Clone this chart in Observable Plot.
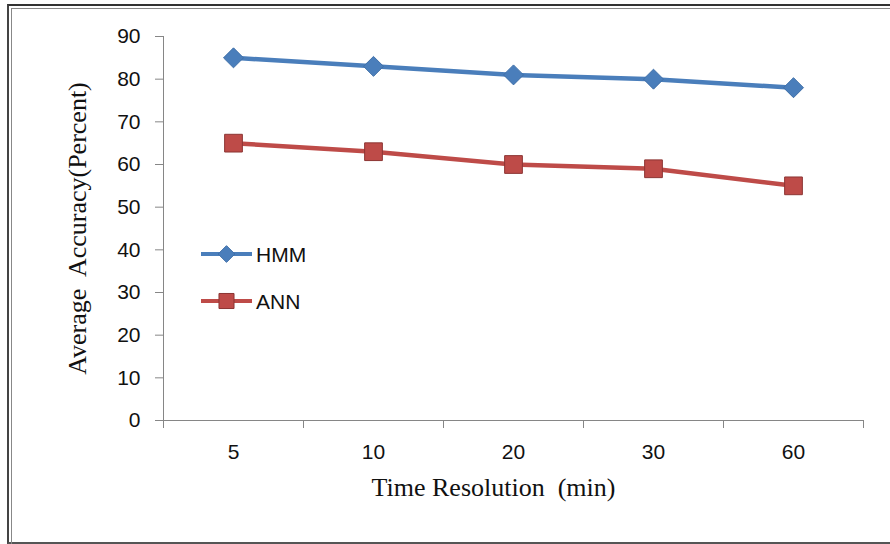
<!DOCTYPE html>
<html>
<head>
<meta charset="utf-8">
<script src="https://cdn.jsdelivr.net/npm/d3@7"></script>
<script src="https://cdn.jsdelivr.net/npm/@observablehq/plot@0.6"></script>
<style>
  html, body { margin: 0; padding: 0; background: #fff; }
  #wrap { position: relative; width: 890px; height: 544px; overflow: hidden; background: #fff; }
  #chart { position: absolute; left: 0; top: 0; }
  .frame { position: absolute; box-sizing: border-box; }
  #outer { left: 7px; top: 4px; width: 900px; height: 540px; border-left: 2px solid #444; border-top: 2px solid #333; border-bottom: 2px solid #555; }
  #inner { left: 11px; top: 8px; width: 900px; height: 600px; border-left: 1px solid #888; border-top: 1px solid #888; }
  #legend { position: absolute; left: 0; top: 0; }
</style>
</head>
<body>
<div id="wrap">
  <div id="chart"></div>
  <div class="frame" id="outer"></div>
  <div class="frame" id="inner"></div>
  <svg id="legend" width="890" height="544"></svg>
</div>
<script>
// ---- data ----
const categories = ["5", "10", "20", "30", "60"];
const hmmValues = [85, 83, 81, 80, 78];
const annValues = [65, 63, 60, 59, 55];
const seriesNames = ["HMM", "ANN"];
const seriesColors = ["#4a7ebb", "#be4b48"];
const seriesStrokes = ["#3f6fa8", "#8c3533"];
const seriesSymbols = ["diamond2", "square"];
const yTicks = [0, 10, 20, 30, 40, 50, 60, 70, 80, 90];
const xTitle = "Time Resolution  (min)";
const yTitle = "Average  Accuracy(Percent)";

const rows = [];
categories.forEach((c, i) => {
  rows.push({series: seriesNames[0], pos: i + 0.5, cat: c, value: hmmValues[i]});
  rows.push({series: seriesNames[1], pos: i + 0.5, cat: c, value: annValues[i]});
});

const sansFont = "'Liberation Sans', Arial, sans-serif";
const serifFont = "'Liberation Serif', 'Times New Roman', serif";
const axisGray = "#868686";

const chart = Plot.plot({
  width: 890,
  height: 544,
  marginLeft: 163,
  marginRight: 27,
  marginTop: 36,
  marginBottom: 124,
  x: {domain: [0, categories.length], axis: null},
  y: {domain: [0, 90], axis: null},
  color: {domain: seriesNames, range: seriesColors},
  symbol: {domain: seriesNames, range: seriesSymbols},
  style: {background: "transparent", overflow: "visible"},
  marks: [
    // axis lines
    Plot.ruleY([d3.min(yTicks)], {stroke: axisGray, strokeWidth: 1}),
    Plot.ruleX([0], {stroke: axisGray, strokeWidth: 1}),
    // y axis ticks + labels
    Plot.axisY({ticks: yTicks, tickSize: 8, tickPadding: 15, stroke: axisGray, fill: "#111",
      fontSize: 21, fontFamily: sansFont, label: null}),
    // x axis separators between categories
    Plot.axisX({ticks: d3.range(categories.length + 1), tickSize: 8, tickFormat: () => "",
      stroke: axisGray, label: null}),
    // x category labels
    Plot.axisX({ticks: categories.map((c, i) => i + 0.5), tickSize: 0, tickPadding: 24,
      tickFormat: (d) => categories[Math.floor(d)], fill: "#111", fontSize: 21, fontFamily: sansFont,
      label: null}),
    // axis titles
    Plot.text([yTitle], {frameAnchor: "left", text: d => d, rotate: -90, dx: -86,
      textAnchor: "middle", lineAnchor: "middle",
      fontFamily: serifFont, fontSize: 26, fill: "#111"}),
    Plot.text([xTitle], {frameAnchor: "bottom", text: d => d, dx: -20, dy: 67,
      textAnchor: "middle", lineAnchor: "middle",
      fontFamily: serifFont, fontSize: 26, fill: "#111"}),
    // series lines
    Plot.line(rows, {x: "pos", y: "value", z: "series", stroke: "series", strokeWidth: 4.5}),
    // markers
    Plot.dot(rows.filter(d => d.series === seriesNames[0]), {x: "pos", y: "value",
      symbol: "series", fill: "series", r: 9, stroke: seriesStrokes[0], strokeWidth: 1}),
    Plot.dot(rows.filter(d => d.series === seriesNames[1]), {x: "pos", y: "value",
      symbol: "series", fill: "series", r: 10, stroke: seriesStrokes[1], strokeWidth: 1})
  ]
});
document.getElementById("chart").appendChild(chart);

// ---- legend (inside plot area) ----
const legend = d3.select("#legend");
const legendX = 201, legendY0 = 254, legendStep = 47, lineLen = 51;
const symbolSizes = [255, 324];
seriesNames.forEach((name, i) => {
  const g = legend.append("g").attr("transform", `translate(${legendX},${legendY0 + i * legendStep})`);
  g.append("line").attr("x1", 0).attr("x2", lineLen).attr("y1", 0).attr("y2", 0)
    .attr("stroke", seriesColors[i]).attr("stroke-width", 4);
  const sym = i === 0 ? d3.symbolDiamond2 : d3.symbolSquare;
  g.append("path").attr("transform", `translate(${lineLen / 2},0)`)
    .attr("d", d3.symbol(sym, symbolSizes[i] * 0.7)())
    .attr("fill", seriesColors[i]).attr("stroke", seriesStrokes[i]).attr("stroke-width", 1);
  g.append("text").attr("x", lineLen + 4).attr("y", 0).attr("dy", "0.36em")
    .attr("font-family", sansFont).attr("font-size", 21).attr("fill", "#111").text(name);
});
</script>
</body>
</html>
